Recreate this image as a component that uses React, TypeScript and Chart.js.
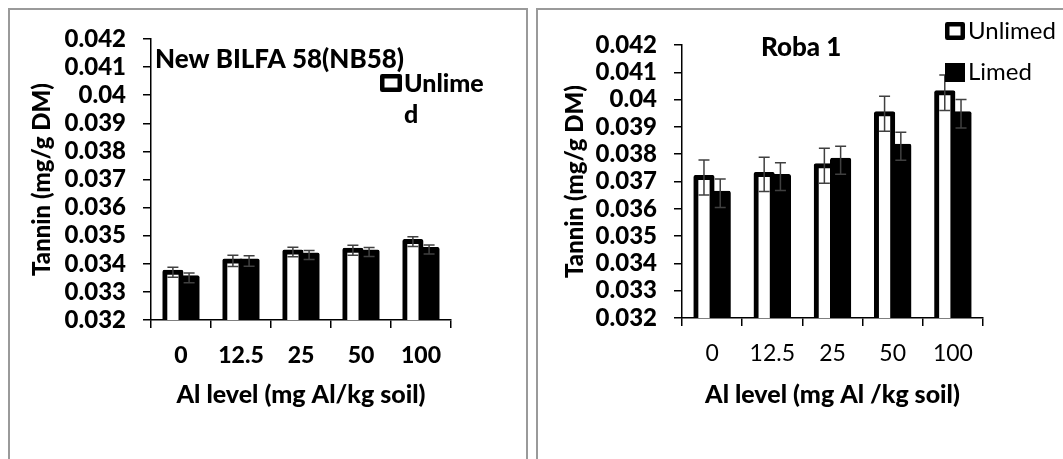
import React, { useEffect, useRef } from "react";
import { Chart, registerables } from "chart.js";

Chart.register(...registerables);

// ---------- data ----------
const categories = ["0", "12.5", "25", "50", "100"];

const nbUnlimed = [0.0337, 0.0341, 0.03442, 0.03448, 0.03479];
const nbUnlimedErr = [0.00018, 0.0002, 0.00017, 0.00018, 0.00017];
const nbLimed = [0.0335, 0.0341, 0.03431, 0.03442, 0.03451];
const nbLimedErr = [0.00017, 0.00019, 0.00016, 0.00016, 0.00016];

const robaUnlimed = [0.03715, 0.03726, 0.03758, 0.03948, 0.04025];
const robaUnlimedErr = [0.00064, 0.00063, 0.00064, 0.00064, 0.00065];
const robaLimed = [0.03657, 0.03718, 0.03778, 0.03829, 0.03948];
const robaLimedErr = [0.00052, 0.00051, 0.00051, 0.00051, 0.00052];

const yMin = 0.032;
const yMax = 0.042;
const yStep = 0.001;

const seriesLabels = ["Unlimed", "Limed"];
const nbTitle = "New BILFA 58(NB58)";
const robaTitle = "Roba 1";
const yTitle = "Tannin (mg/g DM)";
const nbXTitle = "Al level (mg Al/kg soil)";
const robaXTitle = "Al level (mg Al /kg soil)";
const nbLegendLines = ["Unlime", "d"];

const FONT = "Lato, 'Open Sans', sans-serif";
const HEAVY = "900";

// ---------- plugins ----------
const errorBarsPlugin = {
  id: "errorBars",
  afterDatasetsDraw(chart: any, _args: any, opts: any) {
    const { ctx } = chart;
    const yScale = chart.scales.y;
    chart.data.datasets.forEach((ds: any, i: number) => {
      const meta = chart.getDatasetMeta(i);
      const errs: number[] = ds.errors || [];
      meta.data.forEach((bar: any, j: number) => {
        const v = ds.data[j];
        const e = errs[j];
        if (e == null) return;
        const x = bar.x;
        const top = yScale.getPixelForValue(v + e);
        const bot = yScale.getPixelForValue(v - e);
        const cap = opts.cap || 5;
        ctx.save();
        ctx.strokeStyle = opts.color || "#404040";
        ctx.lineWidth = opts.width || 1.5;
        ctx.beginPath();
        ctx.moveTo(x, top);
        ctx.lineTo(x, bot);
        ctx.moveTo(x - cap, top);
        ctx.lineTo(x + cap, top);
        ctx.moveTo(x - cap, bot);
        ctx.lineTo(x + cap, bot);
        ctx.stroke();
        ctx.restore();
      });
    });
  },
};

const decorPlugin = {
  id: "decor",
  afterDraw(chart: any, _args: any, opts: any) {
    const { ctx } = chart;
    ctx.save();
    (opts.boxes || []).forEach((b: any) => {
      const lw = b.lineWidth || 4;
      ctx.fillStyle = b.fill;
      ctx.fillRect(b.x, b.y, b.w, b.h);
      ctx.strokeStyle = "#000";
      ctx.lineWidth = lw;
      ctx.lineJoin = "round";
      ctx.strokeRect(b.x + lw / 2, b.y + lw / 2, b.w - lw, b.h - lw);
    });
    (opts.texts || []).forEach((t: any) => {
      ctx.font = t.font;
      ctx.fillStyle = "#000";
      ctx.textAlign = t.align || "left";
      ctx.textBaseline = "middle";
      ctx.fillText(t.text, t.x, t.y);
    });
    ctx.restore();
  },
};

const fmt = (v: any) => String(parseFloat(Number(v).toFixed(3)));

type PanelCfg = {
  width: number;
  height: number;
  unlimed: number[];
  unlimedErr: number[];
  limed: number[];
  limedErr: number[];
  yAxisWidth: number;
  xAxisHeight: number;
  padTop: number;
  padRight: number;
  yTitlePad: number;
  xTitlePad: number;
  yTickPad: number;
  xTickPad: number;
  xTickBold: boolean;
  xTitleText: string;
  decor: any;
};

function makeConfig(c: PanelCfg): any {
  const barBase = {
    borderColor: "#000",
    borderWidth: 5,
    borderSkipped: false,
    borderRadius: 2,
    inflateAmount: 2.5,
    categoryPercentage: 0.54,
    barPercentage: 1.0,
  };
  return {
    type: "bar",
    data: {
      labels: categories,
      datasets: [
        {
          ...barBase,
          label: seriesLabels[0],
          data: c.unlimed,
          errors: c.unlimedErr,
          backgroundColor: "#fff",
        },
        {
          ...barBase,
          label: seriesLabels[1],
          data: c.limed,
          errors: c.limedErr,
          backgroundColor: "#000",
        },
      ],
    },
    options: {
      responsive: false,
      animation: false,
      devicePixelRatio: 1,
      layout: { padding: { top: c.padTop, right: c.padRight, left: 0, bottom: 0 } },
      plugins: {
        legend: { display: false },
        tooltip: { enabled: false },
        title: { display: false },
        errorBars: { color: "#404040", width: 1.5, cap: 5.5 },
        decor: c.decor,
      },
      scales: {
        x: {
          afterFit: (s: any) => {
            s.height = c.xAxisHeight;
          },
          border: { color: "#000", width: 1.5 },
          grid: {
            display: true,
            drawOnChartArea: false,
            drawTicks: true,
            tickLength: 8,
            color: "#000",
            lineWidth: 1.5,
            offset: true,
          },
          ticks: {
            color: "#000",
            padding: c.xTickPad,
            maxRotation: 0,
            font: { family: FONT, size: 23, weight: c.xTickBold ? HEAVY : "normal" },
          },
          title: {
            display: true,
            text: c.xTitleText,
            color: "#000",
            padding: { top: 0, bottom: c.xTitlePad },
            font: { family: FONT, size: 25, weight: HEAVY },
          },
        },
        y: {
          min: yMin,
          max: yMax,
          afterFit: (s: any) => {
            s.width = c.yAxisWidth;
          },
          border: { color: "#000", width: 1.5 },
          grid: {
            display: true,
            drawOnChartArea: false,
            drawTicks: true,
            tickLength: 8,
            color: "#000",
            lineWidth: 1.5,
          },
          ticks: {
            stepSize: yStep,
            maxTicksLimit: 20,
            autoSkip: false,
            color: "#000",
            padding: c.yTickPad,
            callback: fmt,
            font: { family: FONT, size: 24, weight: HEAVY, lineHeight: 1 },
          },
          title: {
            display: true,
            text: yTitle,
            color: "#000",
            padding: { top: c.yTitlePad, bottom: 0 },
            font: { family: FONT, size: 24, weight: HEAVY },
          },
        },
      },
    },
    plugins: [errorBarsPlugin, decorPlugin],
  };
}

function Panel({ cfg, left, top }: { cfg: PanelCfg; left: number; top: number }) {
  const ref = useRef<HTMLCanvasElement | null>(null);
  useEffect(() => {
    if (!ref.current) return;
    const chart = new Chart(ref.current, makeConfig(cfg));
    return () => chart.destroy();
  }, []);
  return (
    <canvas
      ref={ref}
      width={cfg.width}
      height={cfg.height}
      style={{ position: "absolute", left, top, width: cfg.width, height: cfg.height }}
    />
  );
}

const leftCfg: PanelCfg = {
  width: 516,
  height: 449,
  unlimed: nbUnlimed,
  unlimedErr: nbUnlimedErr,
  limed: nbLimed,
  limedErr: nbLimedErr,
  yAxisWidth: 141,
  xAxisHeight: 139,
  padTop: 28,
  padRight: 75,
  yTitlePad: 18,
  xTitlePad: 49,
  yTickPad: 17,
  xTickPad: 14,
  xTickBold: true,
  xTitleText: nbXTitle,
  decor: {
    texts: [
      { text: nbTitle, x: 145, y: 50, font: `${HEAVY} 26px ${FONT}` },
      { text: nbLegendLines[0], x: 394, y: 74, font: `${HEAVY} 25px ${FONT}` },
      { text: nbLegendLines[1], x: 394, y: 105, font: `${HEAVY} 25px ${FONT}` },
    ],
    boxes: [{ x: 370, y: 64, w: 22, h: 18, fill: "#fff", lineWidth: 4.5 }],
  },
};

const rightCfg: PanelCfg = {
  width: 525,
  height: 449,
  unlimed: robaUnlimed,
  unlimedErr: robaUnlimedErr,
  limed: robaLimed,
  limedErr: robaLimedErr,
  yAxisWidth: 144,
  xAxisHeight: 141,
  padTop: 35,
  padRight: 80,
  yTitlePad: 23,
  xTitlePad: 49,
  yTickPad: 17,
  xTickPad: 14,
  xTickBold: false,
  xTitleText: robaXTitle,
  decor: {
    texts: [
      { text: robaTitle, x: 223, y: 38, font: `${HEAVY} 26px ${FONT}` },
      { text: seriesLabels[0], x: 430, y: 21, font: `24px ${FONT}` },
      { text: seriesLabels[1], x: 430, y: 62, font: `24px ${FONT}` },
    ],
    boxes: [
      { x: 407, y: 12, w: 20, h: 18, fill: "#fff", lineWidth: 4.5 },
      { x: 407, y: 53, w: 20, h: 19, fill: "#000", lineWidth: 4.5 },
    ],
  },
};

export default function App() {
  return (
    <div
      style={{
        position: "fixed",
        left: 0,
        top: 0,
        width: 1063,
        height: 459,
        overflow: "hidden",
        background: "#fff",
      }}
    >
      <div
        style={{
          position: "absolute",
          left: 8,
          top: 8,
          width: 516,
          height: 470,
          border: "2px solid #9a9a9a",
        }}
      />
      <div
        style={{
          position: "absolute",
          left: 536,
          top: 8,
          width: 560,
          height: 470,
          border: "2px solid #9a9a9a",
        }}
      />
      <Panel cfg={leftCfg} left={10} top={10} />
      <Panel cfg={rightCfg} left={538} top={10} />
    </div>
  );
}
